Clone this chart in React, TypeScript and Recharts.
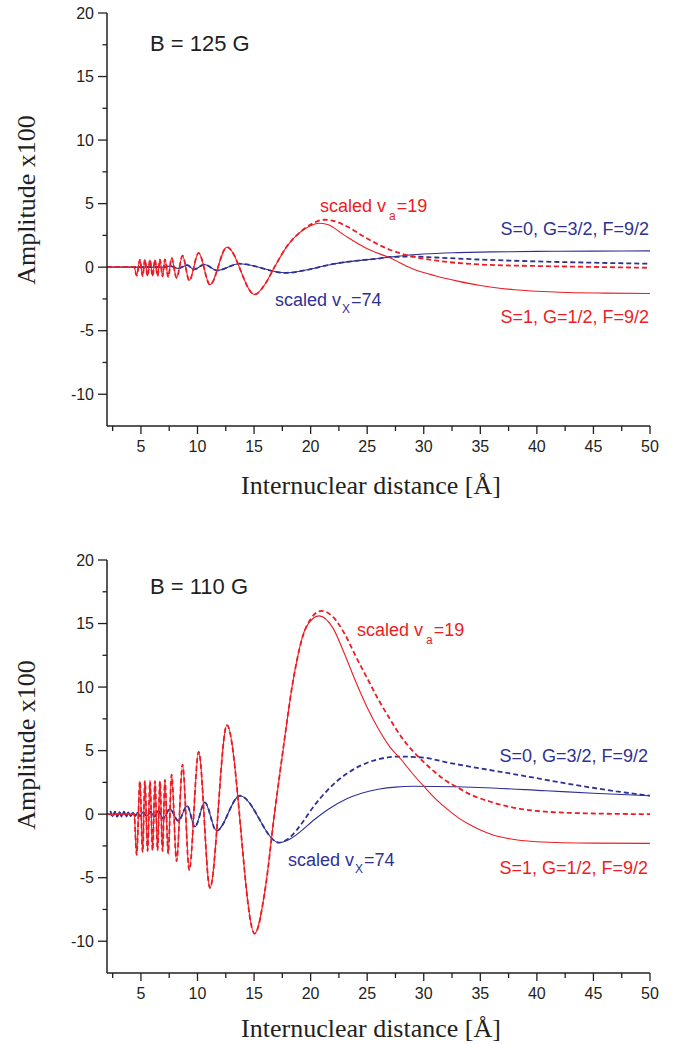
import React from "react";
import { LineChart, Line, XAxis, YAxis } from "recharts";

const RED = "#ed1c24";
const BLUE = "#2e3192";
const INK = "#231f20";

const X_TICKS = [2.5, 5, 7.5, 10, 12.5, 15, 17.5, 20, 22.5, 25, 27.5, 30, 32.5, 35, 37.5, 40, 42.5, 45, 47.5, 50];
const Y_TICKS = [-10, -7.5, -5, -2.5, 0, 2.5, 5, 7.5, 10, 12.5, 15, 17.5, 20];

type Pt = [number, number];

// ---- B = 125 G ----
// inner oscillations, solid and dashed overlap here
const red125Inner: Pt[] = [
  [2, 0], [4.4, 0], [4.62, -0.66], [4.91, 0.58], [5.15, -0.7], [5.35, 0.58], [5.59, -0.7],
  [5.8, 0.58], [6.03, -0.7], [6.24, 0.58], [6.47, -0.7], [6.68, 0.6], [6.91, -0.72],
  [7.12, 0.62], [7.41, -0.76], [7.71, 0.72], [8.15, -0.84], [8.68, 0.9], [9.27, -1.05],
  [10.1, 1.12], [11.1, -1.38], [12.6, 1.57], [15.05, -2.15], [16.0, -1.3], [16.8, 0],
  [18.0, 1.75], [19.0, 2.7],
];
const red125SolidTail: Pt[] = [
  [20.0, 3.25], [20.7, 3.46], [21.5, 3.35], [23, 2.5], [25, 1.45], [27, 0.74], [29, -0.13],
  [31, -0.68], [33, -1.1], [35, -1.45], [38, -1.78], [42, -1.97], [46, -2.04], [50, -2.07],
];
const red125DashedTail: Pt[] = [
  [20.0, 3.35], [21.2, 3.73], [22, 3.65], [23, 3.3], [25, 2.25], [27, 1.37], [29, 0.84],
  [31, 0.53], [35, 0.21], [40, 0.09], [45, 0.02], [50, -0.05],
];
const blue125Inner: Pt[] = [
  [2, 0], [7, 0], [7.56, 0.08], [8.3, -0.1], [9.09, 0.16], [9.7, -0.18], [10.6, 0.21],
  [11.75, -0.26], [13.7, 0.27], [17.8, -0.45], [19.2, -0.3], [20.5, -0.05], [22, 0.25],
  [24, 0.5], [26, 0.68],
];
const blue125SolidTail: Pt[] = [
  [27, 0.79], [30, 1.03], [33, 1.14], [36, 1.2], [40, 1.24], [45, 1.26], [50, 1.28],
];
const blue125DashedTail: Pt[] = [
  [27, 0.8], [29, 0.83], [31, 0.76], [35, 0.6], [40, 0.45], [45, 0.35], [50, 0.27],
];

// ---- B = 110 G ----
const red110Inner: Pt[] = [
  [2, 0], [4.4, 0], [4.62, -3.2], [4.91, 2.6], [5.15, -3.0], [5.35, 2.6], [5.59, -2.9],
  [5.8, 2.6], [6.03, -2.85], [6.24, 2.6], [6.47, -2.85], [6.68, 2.6], [6.91, -2.9],
  [7.12, 2.7], [7.41, -3.1], [7.71, 3.1], [8.15, -3.7], [8.68, 3.9], [9.27, -4.4],
  [10.1, 4.9], [11.1, -5.8], [12.6, 7.0], [15.05, -9.4], [16.0, -5.8], [16.8, 0],
  [17.6, 5.3], [18.45, 10.5], [19.6, 14.7],
];
const red110SolidTail: Pt[] = [
  [20.74, 15.6], [22, 14.6], [23, 12.6], [24, 10.4], [25, 8.4], [26, 6.7], [27, 5.3],
  [28, 4.3], [29, 3.2], [30, 2.2], [31, 1.25], [32, 0.45], [33, -0.25], [34, -0.8],
  [35, -1.25], [36, -1.6], [38, -2.0], [40, -2.17], [45, -2.28], [50, -2.3],
];
const red110DashedTail: Pt[] = [
  [20.95, 16.0], [22, 15.5], [23, 14.2], [24, 12.4], [25, 10.7], [26, 9.0], [27, 7.5],
  [28, 6.1], [29, 5.0], [30, 4.1], [31, 3.3], [32, 2.6], [33, 2.1], [34, 1.6], [36, 0.95],
  [38, 0.5], [40, 0.25], [45, 0.05], [50, 0],
];
const blue110Inner: Pt[] = [
  [2.3, 0.25], [2.5, -0.2], [2.7, 0.2], [2.9, -0.2], [3.1, 0.2], [3.3, -0.2], [3.5, 0.2],
  [3.7, -0.2], [3.9, 0.15], [4.1, -0.15], [4.3, 0.15], [4.5, -0.15], [4.7, 0.15],
  [4.9, -0.15], [5.2, 0.15], [5.5, -0.15], [5.85, 0.18], [6.2, -0.2], [6.55, 0.25],
  [6.95, -0.35], [7.56, 0.4], [8.3, -0.53], [9.09, 0.66], [9.77, -1.0], [10.65, 0.92],
  [11.68, -1.32], [13.74, 1.45], [17.2, -2.24],
];
const blue110SolidTail: Pt[] = [
  [18.15, -1.97], [19.2, -1.3], [20.2, -0.52], [21.5, 0.35], [23.15, 1.19], [24.5, 1.65],
  [26.1, 1.98], [27.5, 2.13], [29, 2.19], [31, 2.18], [34.9, 2.1], [40.8, 1.84], [45, 1.65],
  [50, 1.45],
];
const blue110DashedTail: Pt[] = [
  [18.15, -1.84], [19.2, -0.75], [20.2, 0.53], [21.5, 1.9], [23.15, 3.16], [24.5, 3.85],
  [26.1, 4.35], [27.86, 4.53], [30, 4.45], [32, 4.08], [35, 3.6], [37.9, 3.16], [40.8, 2.7],
  [43.75, 2.24], [47, 1.8], [50, 1.45],
];

const toRows = (...parts: Pt[][]) => parts.flat().map(([r, v]) => ({ r, v }));

const XTick = ({ x, y, payload }: any) => {
  const major = payload.value % 5 === 0;
  return (
    <g>
      <line x1={x} x2={x} y1={y} y2={y + (major ? 8 : 5)} stroke={INK} strokeWidth={1.3} />
      {major && (
        <text x={x} y={y + 26} textAnchor="middle" fill={INK} fontSize={16}
          fontFamily="'Liberation Sans', Arial, sans-serif">
          {payload.value}
        </text>
      )}
    </g>
  );
};

const YTick = ({ x, y, payload }: any) => {
  const major = payload.value % 5 === 0;
  return (
    <g>
      <line x1={x} x2={x - (major ? 9 : 4.5)} y1={y} y2={y} stroke={INK} strokeWidth={1.3} />
      {major && (
        <text x={x - 13} y={y + 5.8} textAnchor="end" fill={INK} fontSize={16}
          fontFamily="'Liberation Sans', Arial, sans-serif">
          {payload.value}
        </text>
      )}
    </g>
  );
};

interface Series {
  data: { r: number; v: number }[];
  color: string;
  dashed?: boolean;
}

function Panel({ top, series }: { top: number; series: Series[] }) {
  return (
    <div style={{ position: "absolute", left: 0, top }}>
      <LineChart width={676} height={500} margin={{ top: 13, right: 26, bottom: 44, left: 47 }}>
        <XAxis
          dataKey="r"
          type="number"
          domain={[2, 50]}
          ticks={X_TICKS}
          interval={0}
          allowDataOverflow
          height={30}
          tickSize={0}
          tickMargin={0}
          tickLine={false}
          axisLine={{ stroke: INK, strokeWidth: 1.5 }}
          tick={<XTick />}
        />
        <YAxis
          type="number"
          domain={[-12.5, 20]}
          ticks={Y_TICKS}
          interval={0}
          allowDataOverflow
          width={60}
          tickSize={0}
          tickMargin={0}
          tickLine={false}
          axisLine={{ stroke: INK, strokeWidth: 1.5 }}
          tick={<YTick />}
        />
        {series.map((s, i) => (
          <Line
            key={i}
            data={s.data}
            dataKey="v"
            type="monotone"
            stroke={s.color}
            strokeWidth={s.dashed ? 1.8 : 1.1}
            strokeDasharray={s.dashed ? "5 3" : undefined}
            dot={false}
            activeDot={false}
            isAnimationActive={false}
          />
        ))}
      </LineChart>
    </div>
  );
}

const sans = "'Liberation Sans', Arial, sans-serif";
const serif = "'Liberation Serif', 'Times New Roman', serif";

function Labels() {
  return (
    <svg width={676} height={1044} style={{ position: "absolute", left: 0, top: 0, pointerEvents: "none" }}>
      {/* top panel */}
      <text x={150} y={51} fontSize={22} fontFamily={sans} fill={INK}>B = 125 G</text>
      <text x={320} y={212} fontSize={18} fontFamily={sans} fill={RED}>
        scaled v<tspan dx={3} dy={8} fontSize={12}>a</tspan><tspan dx={1} dy={-8}>=19</tspan>
      </text>
      <text x={649} y={235} fontSize={18} fontFamily={sans} fill={BLUE} textAnchor="end">S=0, G=3/2, F=9/2</text>
      <text x={275} y={306} fontSize={18} fontFamily={sans} fill={BLUE}>
        scaled v<tspan dx={1} dy={7} fontSize={12}>X</tspan><tspan dx={1} dy={-7}>=74</tspan>
      </text>
      <text x={649} y={323} fontSize={18} fontFamily={sans} fill={RED} textAnchor="end">S=1, G=1/2, F=9/2</text>
      <text x={35} y={200} fontSize={26} fontFamily={serif} fill={INK} textAnchor="middle"
        transform="rotate(-90 35 200)">Amplitude x100</text>
      <text x={371} y={494} fontSize={26} fontFamily={serif} fill={INK} textAnchor="middle">Internuclear distance [Å]</text>

      {/* bottom panel */}
      <text x={150} y={594} fontSize={22} fontFamily={sans} fill={INK}>B = 110 G</text>
      <text x={357} y={636} fontSize={18} fontFamily={sans} fill={RED}>
        scaled v<tspan dx={3} dy={8} fontSize={12}>a</tspan><tspan dx={1} dy={-8}>=19</tspan>
      </text>
      <text x={648} y={762} fontSize={18} fontFamily={sans} fill={BLUE} textAnchor="end">S=0, G=3/2, F=9/2</text>
      <text x={288} y={866} fontSize={18} fontFamily={sans} fill={BLUE}>
        scaled v<tspan dx={1} dy={7} fontSize={12}>X</tspan><tspan dx={1} dy={-7}>=74</tspan>
      </text>
      <text x={648} y={874} fontSize={18} fontFamily={sans} fill={RED} textAnchor="end">S=1, G=1/2, F=9/2</text>
      <text x={35} y={745} fontSize={26} fontFamily={serif} fill={INK} textAnchor="middle"
        transform="rotate(-90 35 745)">Amplitude x100</text>
      <text x={371} y={1037} fontSize={26} fontFamily={serif} fill={INK} textAnchor="middle">Internuclear distance [Å]</text>
    </svg>
  );
}

export default function App() {
  const top: Series[] = [
    { data: toRows(blue125Inner, blue125SolidTail), color: BLUE },
    { data: toRows(blue125Inner, blue125DashedTail), color: BLUE, dashed: true },
    { data: toRows(red125Inner, red125SolidTail), color: RED },
    { data: toRows(red125Inner, red125DashedTail), color: RED, dashed: true },
  ];
  const bottom: Series[] = [
    { data: toRows(blue110Inner, blue110SolidTail), color: BLUE },
    { data: toRows(blue110Inner, blue110DashedTail), color: BLUE, dashed: true },
    { data: toRows(red110Inner, red110SolidTail), color: RED },
    { data: toRows(red110Inner, red110DashedTail), color: RED, dashed: true },
  ];
  return (
    <div style={{ position: "absolute", left: 0, top: 0, width: 676, height: 1044, background: "#fff" }}>
      <Panel top={0} series={top} />
      <Panel top={547} series={bottom} />
      <Labels />
    </div>
  );
}
